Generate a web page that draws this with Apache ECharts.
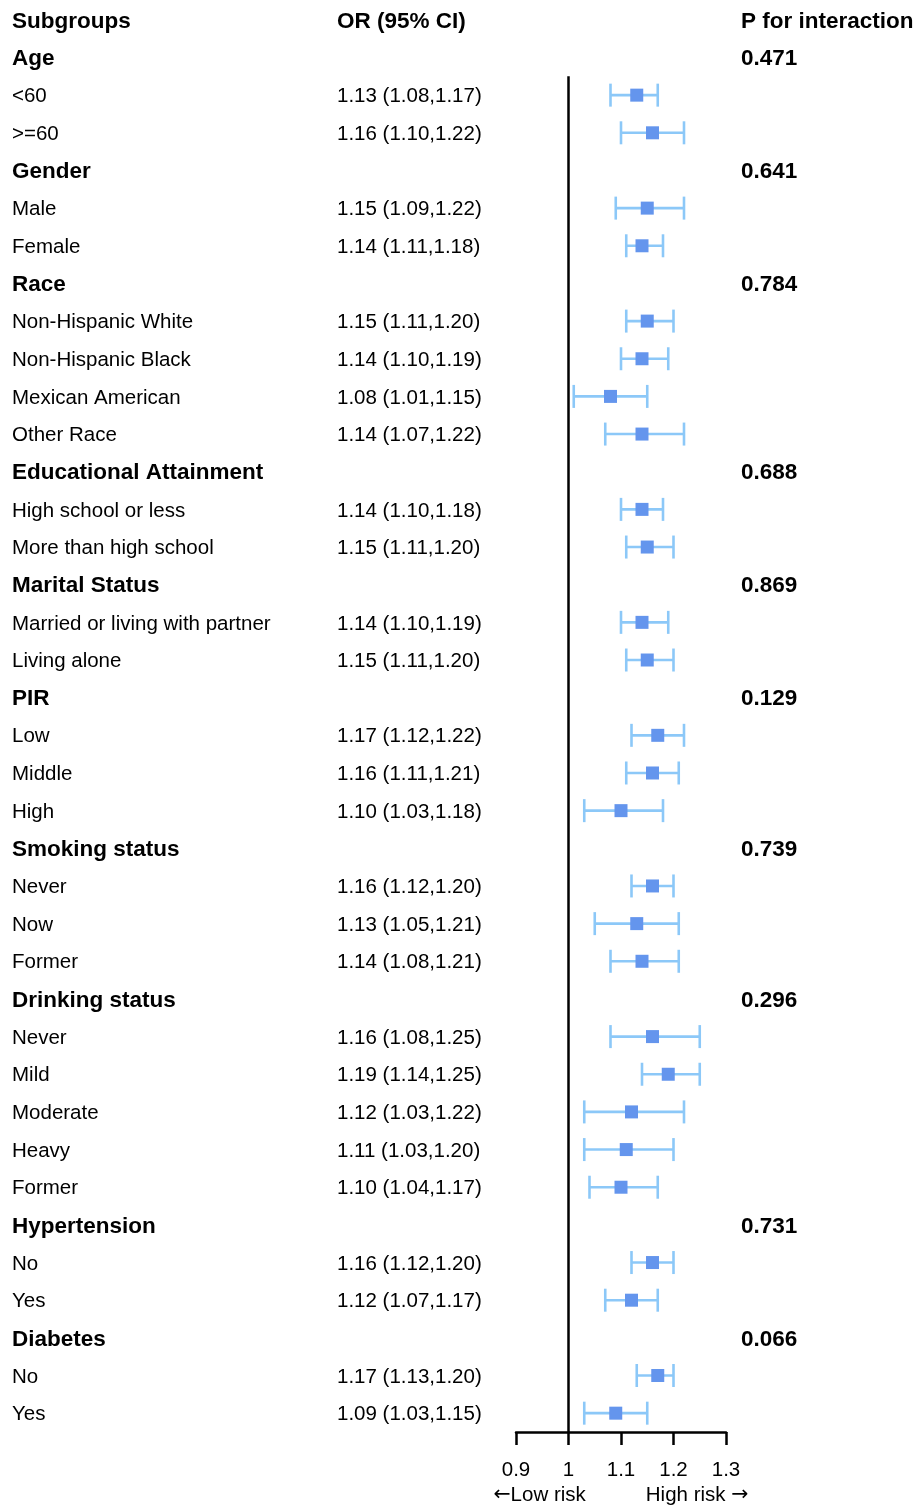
<!DOCTYPE html>
<html>
<head>
<meta charset="utf-8">
<script src="https://cdn.jsdelivr.net/npm/echarts@6/dist/echarts.min.js"></script>
<style>
  html, body { margin: 0; padding: 0; background: #fff; }
  #chart { width: 917px; height: 1506px; }
</style>
</head>
<body>
<div id="chart"></div>
<script>
// Column headers
const headers = ['Subgroups', 'OR (95% CI)', 'P for interaction'];

// Rows below the header; rows with a P value are group titles
const rowNames = [
  'Age', '<60', '>=60',
  'Gender', 'Male', 'Female',
  'Race', 'Non-Hispanic White', 'Non-Hispanic Black', 'Mexican American', 'Other Race',
  'Educational Attainment', 'High school or less', 'More than high school',
  'Marital Status', 'Married or living with partner', 'Living alone',
  'PIR', 'Low', 'Middle', 'High',
  'Smoking status', 'Never', 'Now', 'Former',
  'Drinking status', 'Never', 'Mild', 'Moderate', 'Heavy', 'Former',
  'Hypertension', 'No', 'Yes',
  'Diabetes', 'No', 'Yes'
];

const orValues = [
  null, 1.13, 1.16,
  null, 1.15, 1.14,
  null, 1.15, 1.14, 1.08, 1.14,
  null, 1.14, 1.15,
  null, 1.14, 1.15,
  null, 1.17, 1.16, 1.10,
  null, 1.16, 1.13, 1.14,
  null, 1.16, 1.19, 1.12, 1.11, 1.10,
  null, 1.16, 1.12,
  null, 1.17, 1.09
];

const ciLower = [
  null, 1.08, 1.10,
  null, 1.09, 1.11,
  null, 1.11, 1.10, 1.01, 1.07,
  null, 1.10, 1.11,
  null, 1.10, 1.11,
  null, 1.12, 1.11, 1.03,
  null, 1.12, 1.05, 1.08,
  null, 1.08, 1.14, 1.03, 1.03, 1.04,
  null, 1.12, 1.07,
  null, 1.13, 1.03
];

const ciUpper = [
  null, 1.17, 1.22,
  null, 1.22, 1.18,
  null, 1.20, 1.19, 1.15, 1.22,
  null, 1.18, 1.20,
  null, 1.19, 1.20,
  null, 1.22, 1.21, 1.18,
  null, 1.20, 1.21, 1.21,
  null, 1.25, 1.25, 1.22, 1.20, 1.17,
  null, 1.20, 1.17,
  null, 1.20, 1.15
];

const pInteraction = [
  0.471, null, null,
  0.641, null, null,
  0.784, null, null, null, null,
  0.688, null, null,
  0.869, null, null,
  0.129, null, null, null,
  0.739, null, null, null,
  0.296, null, null, null, null, null,
  0.731, null, null,
  0.066, null, null
];

// X axis ticks
const xTicks = [0.9, 1.0, 1.1, 1.2, 1.3];
const riskWords = ['Low risk', 'High risk '];

const FONT = '"Liberation Sans", Arial, Helvetica, sans-serif';
const ARROW_FONT = '"DejaVu Sans", "Liberation Sans", sans-serif';
const BOX_COLOR = '#6495ed';
const CI_COLOR = '#8cc8f8';

// Category index 0 is the header, row i is category i + 1
const categories = ['h'].concat(rowNames.map((_, i) => String(i)));
const isTitle = idx => idx === 0 || pInteraction[idx - 1] !== null;

const fmt2 = v => v.toFixed(2);
const orText = i => orValues[i] === null ? '' :
  fmt2(orValues[i]) + ' (' + fmt2(ciLower[i]) + ',' + fmt2(ciUpper[i]) + ')';

const rich = {
  b: { fontFamily: FONT, fontSize: 22.5, fontWeight: 'bold', color: '#000', padding: [3, 0, 0, 0] },
  n: { fontFamily: FONT, fontSize: 20.5, color: '#000', padding: [3, 0, 0, 0] }
};

function labelAxis(position, margin, textOf) {
  return {
    type: 'category',
    data: categories,
    inverse: true,
    position: position,
    axisLine: { show: false },
    axisTick: { show: false },
    splitLine: { show: false },
    axisLabel: {
      interval: 0,
      margin: margin,
      align: 'left',
      verticalAlign: 'middle',
      rich: rich,
      formatter: (value, idx) => {
        const t = textOf(idx);
        if (!t) return '';
        return (isTitle(idx) ? '{b|' : '{n|') + t + '}';
      }
    }
  };
}

const ciData = [];
orValues.forEach((v, i) => {
  if (v !== null) ciData.push([ciLower[i], ciUpper[i], v, i + 1]);
});

const option = {
  animation: false,
  backgroundColor: '#fff',
  grid: { left: 516, right: 191, top: 1, bottom: 74, outerBoundsMode: 'none' },
  xAxis: {
    type: 'value',
    min: xTicks[0],
    max: xTicks[xTicks.length - 1],
    interval: 0.1,
    axisLine: { show: true, onZero: false, lineStyle: { color: '#000', width: 2.5 } },
    axisTick: { show: true, length: 13, lineStyle: { color: '#000', width: 2.5 } },
    splitLine: { show: false },
    axisLabel: {
      color: '#000', fontFamily: FONT, fontSize: 20.5, margin: 28,
      formatter: v => String(+v.toFixed(1))
    }
  },
  yAxis: [
    labelAxis('left', 504, idx => idx === 0 ? headers[0] : rowNames[idx - 1]),
    labelAxis('left', 179, idx => idx === 0 ? headers[1] : orText(idx - 1)),
    labelAxis('right', 15, idx => idx === 0 ? headers[2] :
      (pInteraction[idx - 1] === null ? '' : pInteraction[idx - 1].toFixed(3)))
  ],
  series: [
    {
      // no-effect reference line at OR = 1
      type: 'custom',
      xAxisIndex: 0,
      yAxisIndex: 0,
      clip: false,
      data: [[1, 2]],
      renderItem: (params, api) => {
        const top = api.coord([api.value(0), api.value(1)]);
        const band = api.size([0, 1])[1];
        const bottom = params.coordSys.y + params.coordSys.height;
        return {
          type: 'line',
          shape: { x1: top[0], y1: top[1] - band / 2, x2: top[0], y2: bottom },
          style: { stroke: '#000', lineWidth: 2.5 }
        };
      }
    },
    {
      type: 'custom',
      xAxisIndex: 0,
      yAxisIndex: 0,
      clip: false,
      data: ciData,
      encode: { x: [0, 1, 2], y: 3 },
      renderItem: (params, api) => {
        const row = api.value(3);
        const lo = api.coord([api.value(0), row]);
        const hi = api.coord([api.value(1), row]);
        const mid = api.coord([api.value(2), row]);
        const capH = 23;
        const sq = 13;
        const lineStyle = { stroke: CI_COLOR, lineWidth: 2.6 };
        return {
          type: 'group',
          children: [
            { type: 'line', shape: { x1: lo[0], y1: lo[1], x2: hi[0], y2: hi[1] }, style: lineStyle },
            { type: 'line', shape: { x1: lo[0], y1: lo[1] - capH / 2, x2: lo[0], y2: lo[1] + capH / 2 }, style: lineStyle },
            { type: 'line', shape: { x1: hi[0], y1: hi[1] - capH / 2, x2: hi[0], y2: hi[1] + capH / 2 }, style: lineStyle },
            { type: 'rect', shape: { x: mid[0] - sq / 2, y: mid[1] - sq / 2, width: sq, height: sq }, style: { fill: BOX_COLOR } }
          ]
        };
      }
    }
  ]
};

const chart = echarts.init(document.getElementById('chart'), null, { renderer: 'canvas' });
chart.setOption(option);

// Direction captions under the x axis
const captionRich = {
  w: { fontFamily: FONT, fontSize: 20.5, color: '#000' },
  a: { fontFamily: ARROW_FONT, fontSize: 20.5, color: '#000' }
};
const lowX = chart.convertToPixel({ xAxisIndex: 0 }, 0.945);
const highX = chart.convertToPixel({ xAxisIndex: 0 }, 1.245);
chart.setOption({
  graphic: [
    { type: 'text', x: lowX, y: 1495, style: { text: '{a|\u2190}{w|' + riskWords[0] + '}', rich: captionRich, align: 'center', verticalAlign: 'middle' } },
    { type: 'text', x: highX, y: 1495, style: { text: '{w|' + riskWords[1] + '}{a|\u2192}', rich: captionRich, align: 'center', verticalAlign: 'middle' } }
  ]
});
</script>
</body>
</html>
